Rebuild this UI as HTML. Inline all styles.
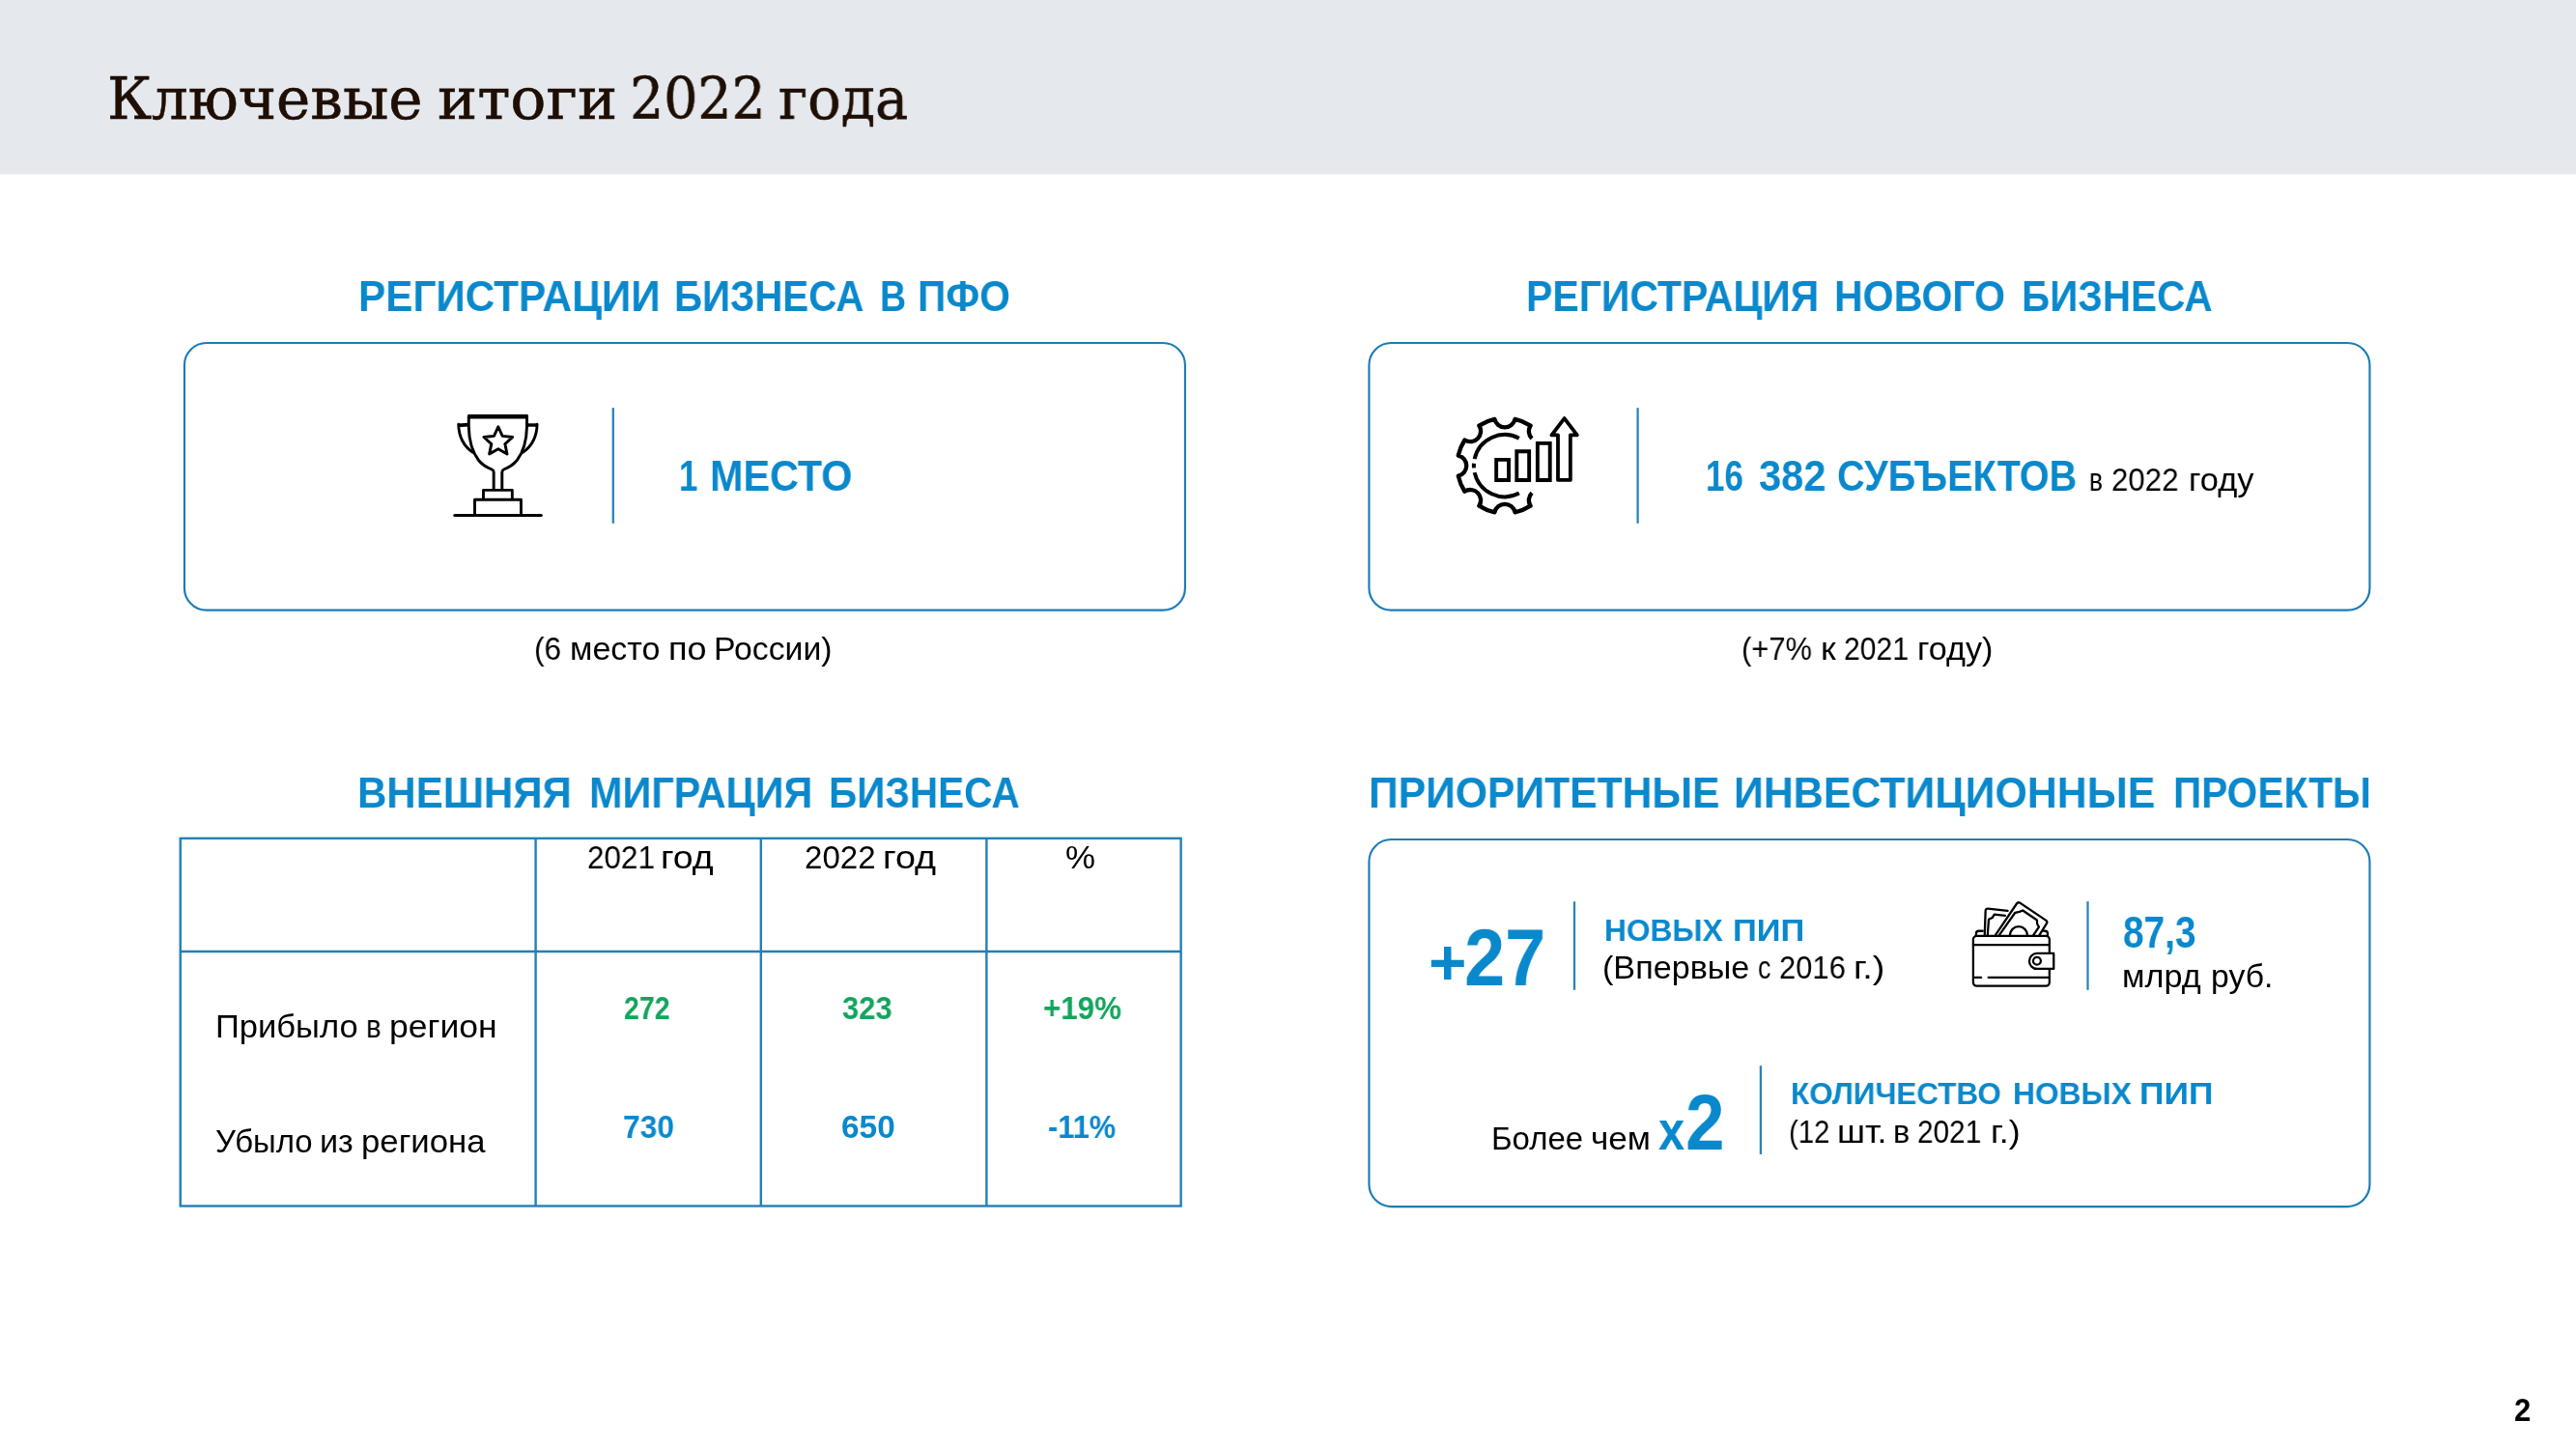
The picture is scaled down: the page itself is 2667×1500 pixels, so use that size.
<!DOCTYPE html>
<html lang="ru">
<head>
<meta charset="utf-8">
<title>Ключевые итоги 2022 года</title>
<style>
html,body{margin:0;padding:0;background:#fff;}
body{width:2667px;height:1500px;position:relative;overflow:hidden;font-family:"Liberation Sans",sans-serif;}
.hdr{position:absolute;left:0;top:0;width:2667px;height:180px;background:#e5e9ed;border-bottom:1px solid #f4f6f8;}
.t{position:absolute;white-space:nowrap;line-height:0;transform-origin:0 0;margin:0;padding:0;will-change:transform;}
.g{position:absolute;left:0;top:0;margin:0;}
.g .t{white-space:pre;}
.f-sans{font-family:"Liberation Sans",sans-serif;}
.f-serif{font-family:"DejaVu Serif","Liberation Serif",serif;}
.tbl{position:absolute;left:0;top:0;}
svg{position:absolute;overflow:visible;}
</style>
</head>
<body>
<div class="hdr"></div>

<!-- cards, separators and table grid -->
<svg class="tbl" width="2667" height="1500" viewBox="0 0 2667 1500">
 <g fill="none" stroke="#1d7cb3" stroke-width="2.15">
  <rect x="190.93" y="354.95" width="1036.03" height="276.7" rx="23" ry="23"/>
  <rect x="1417.42" y="354.95" width="1036.01" height="276.7" rx="23" ry="23"/>
  <rect x="1417.42" y="868.98" width="1036.01" height="380.08" rx="23" ry="23"/>
 </g>
 <g fill="none" stroke="#2785bc" stroke-width="2.3">
  <line x1="634.8" y1="422.2" x2="634.8" y2="541.8"/>
  <line x1="1695.6" y1="422.2" x2="1695.6" y2="541.8"/>
  <line x1="1630.0" y1="933.2" x2="1630.0" y2="1024.8"/>
  <line x1="2161.5" y1="933.2" x2="2161.5" y2="1024.8"/>
  <line x1="1822.9" y1="1103.2" x2="1822.9" y2="1194.9"/>
 </g>
 <g fill="none" stroke="#2180b6" stroke-width="2.4">
  <rect x="186.74" y="867.85" width="1035.92" height="380.62"/>
  <line x1="186.74" y1="985.02" x2="1222.66" y2="985.02"/>
  <line x1="554.6" y1="867.85" x2="554.6" y2="1248.47"/>
  <line x1="787.8" y1="867.85" x2="787.8" y2="1248.47"/>
  <line x1="1021.4" y1="867.85" x2="1021.4" y2="1248.47"/>
 </g>
</svg>

<svg style="left:455px;top:420px" width="120" height="125" viewBox="0 0 1391 1449" fill="none" stroke="#000" stroke-linejoin="round" stroke-linecap="round">
 <path d="M183,1315 H1220" stroke-width="36"/>
 <path d="M423,1315 V1127 H979 V1315" stroke-width="33" stroke-linecap="butt"/>
 <path d="M527,1127 V1012 H873 V1127" stroke-width="33" stroke-linecap="butt"/>
 <path d="M340,130 H1062" stroke-width="52" stroke-linecap="butt"/>
 <path d="M351,120 V250 C354,410 396,560 470,655 C525,722 585,748 628,765 Q651,775 651,800 V1010" stroke-width="34" stroke-linecap="butt"/>
 <path d="M1049,120 V250 C1046,410 1004,560 930,655 C875,722 815,748 772,765 Q751,775 751,800 V1010" stroke-width="34" stroke-linecap="butt"/>
 <path d="M345,228 L226,236" stroke-width="42" stroke-linecap="butt"/>
 <path d="M228,222 C232,380 300,492 400,560" stroke-width="33"/>
 <path d="M1055,232 H1174" stroke-width="40" stroke-linecap="butt"/>
 <path d="M1172,222 C1168,380 1100,492 1000,560" stroke-width="33"/>
 <path d="M705.0,252.0 L755.5,363.4 L877.1,377.1 L786.8,459.6 L811.4,579.4 L705.0,519.0 L598.6,579.4 L623.2,459.6 L532.9,377.1 L654.5,363.4 Z" stroke-width="34" stroke-linejoin="round"/>
</svg>
<svg style="left:1495px;top:420px" width="150" height="125" viewBox="0 0 1739 1449" fill="none" stroke="#000" stroke-linejoin="round" stroke-linecap="butt">
 <path d="M1055.3,394.7 A125,125 0 0 1 1038.7,238.5 A572,572 0 0 0 852.2,161.2 A125,125 0 0 1 730.0,260.0 A125,125 0 0 1 607.8,161.2 A572,572 0 0 0 421.3,238.5 A125,125 0 0 1 404.7,394.7 A125,125 0 0 1 248.5,411.3 A572,572 0 0 0 171.2,597.8 A125,125 0 0 1 270.0,720.0 A125,125 0 0 1 171.2,842.2 A572,572 0 0 0 248.5,1028.7 A125,125 0 0 1 404.7,1045.3 A125,125 0 0 1 421.3,1201.5 A572,572 0 0 0 607.8,1278.8 A125,125 0 0 1 730.0,1180.0 A125,125 0 0 1 852.2,1278.8 A572,572 0 0 0 1038.7,1201.5 A125,125 0 0 1 1055.3,1045.3" stroke-width="50"/>
 <path d="M901.8,390.0 A372,372 0 0 0 366.8,639.5 M359.0,692.8 A372,372 0 0 0 359.0,747.2 M366.8,800.5 A372,372 0 0 0 901.8,1050.0" stroke-width="46"/>
 <path d="M628,648 H777 V892 H628 Z M873,548 H1022 V892 H873 Z M1123,451 H1272 V892 H1123 Z" stroke-width="45" stroke-linejoin="miter"/>
 <path d="M1368,892 V353 H1292 L1445,152 L1598,353 H1517 V892 Z" stroke-width="44"/>
</svg>
<svg style="left:2030px;top:922px" width="110" height="110" viewBox="0 0 1449 1449" fill="none" stroke="#000" stroke-width="30" stroke-linejoin="round" stroke-linecap="round">
 <rect x="170" y="618" width="1040" height="682" rx="48" ry="48"/>
 <path d="M170,740 H1210"/>
 <path d="M190,1185 H278 M378,1185 H1205"/>
 <path d="M1268,856 H1040 A105,105 0 0 0 1040,1066 H1268 Z" fill="#fff"/>
 <circle cx="1040" cy="958" r="52"/>
 <path d="M210,612 V585 Q210,550 245,550 H300"/>
 <path d="M1185,612 V585 Q1185,550 1150,550 H1132"/>
 <path d="M326,610 L338,275 Q340,243 372,246 L640,275"/>
 <path d="M366,610 L382,392 L430,370 L458,325 L605,340"/>
 <path d="M470,610 L763,178 Q782,150 812,170 L1160,403 Q1188,422 1170,450 L1070,610" />
 <path d="M522,610 L742,300 L800,288 L846,270 L1040,402 L1042,452 L1066,496 L988,610"/>
 <path d="M670,610 A120,120 0 0 1 910,610"/>
</svg>


<div class="g"><span class="t f-serif" style="left:111.02px;top:103px;font-size:59.18px;font-weight:400;color:#1e0e04;transform:scaleX(1.0063);-webkit-text-stroke:0.6px #1e0e04;">Ключевые </span><span class="t f-serif" style="left:453.15px;top:103px;font-size:59.18px;font-weight:400;color:#1e0e04;transform:scaleX(1.0441);-webkit-text-stroke:0.6px #1e0e04;">итоги </span><span class="t f-serif" style="left:651.81px;top:103px;font-size:59.18px;font-weight:400;color:#1e0e04;transform:scaleX(0.9335);-webkit-text-stroke:0.6px #1e0e04;">2022 </span><span class="t f-serif" style="left:806.06px;top:103px;font-size:59.18px;font-weight:400;color:#1e0e04;transform:scaleX(0.9709);-webkit-text-stroke:0.6px #1e0e04;">года</span></div>
<div class="g"><span class="t f-sans" style="left:371.35px;top:307px;font-size:43.45px;font-weight:700;color:#0a88cc;transform:scaleX(0.9733);">РЕГИСТРАЦИИ </span><span class="t f-sans" style="left:698.38px;top:307px;font-size:43.45px;font-weight:700;color:#0a88cc;transform:scaleX(0.9281);">БИЗНЕСА </span><span class="t f-sans" style="left:911.06px;top:307px;font-size:43.45px;font-weight:700;color:#0a88cc;transform:scaleX(0.8644);">В </span><span class="t f-sans" style="left:949.74px;top:307px;font-size:43.45px;font-weight:700;color:#0a88cc;transform:scaleX(0.9401);">ПФО</span></div>
<div class="g"><span class="t f-sans" style="left:1580.13px;top:307px;font-size:43.45px;font-weight:700;color:#0a88cc;transform:scaleX(0.9439);">РЕГИСТРАЦИЯ </span><span class="t f-sans" style="left:1898.83px;top:307px;font-size:43.45px;font-weight:700;color:#0a88cc;transform:scaleX(0.9465);">НОВОГО </span><span class="t f-sans" style="left:2092.96px;top:307px;font-size:43.45px;font-weight:700;color:#0a88cc;transform:scaleX(0.9339);">БИЗНЕСА</span></div>
<div class="g"><span class="t f-sans" style="left:369.67px;top:821px;font-size:43.45px;font-weight:700;color:#0a88cc;transform:scaleX(0.9675);">ВНЕШНЯЯ </span><span class="t f-sans" style="left:609.51px;top:821px;font-size:43.45px;font-weight:700;color:#0a88cc;transform:scaleX(0.9527);">МИГРАЦИЯ </span><span class="t f-sans" style="left:857.66px;top:821px;font-size:43.45px;font-weight:700;color:#0a88cc;transform:scaleX(0.9344);">БИЗНЕСА</span></div>
<div class="g"><span class="t f-sans" style="left:1416.63px;top:821px;font-size:43.45px;font-weight:700;color:#0a88cc;transform:scaleX(0.9817);">ПРИОРИТЕТНЫЕ </span><span class="t f-sans" style="left:1795.21px;top:821px;font-size:43.45px;font-weight:700;color:#0a88cc;transform:scaleX(0.9873);">ИНВЕСТИЦИОННЫЕ </span><span class="t f-sans" style="left:2250.06px;top:821px;font-size:43.45px;font-weight:700;color:#0a88cc;transform:scaleX(0.9349);">ПРОЕКТЫ</span></div>
<div class="g"><span class="t f-sans" style="left:702.93px;top:493px;font-size:43.74px;font-weight:700;color:#0a88cc;transform:scaleX(0.8000);">1 </span><span class="t f-sans" style="left:735.41px;top:493px;font-size:43.74px;font-weight:700;color:#0a88cc;transform:scaleX(0.9460);">МЕСТО</span></div>
<div class="g"><span class="t f-sans" style="left:1766.07px;top:493px;font-size:43.74px;font-weight:700;color:#0a88cc;transform:scaleX(0.8000);">16 </span><span class="t f-sans" style="left:1820.57px;top:493px;font-size:43.74px;font-weight:700;color:#0a88cc;transform:scaleX(0.9515);">382 </span><span class="t f-sans" style="left:1902.32px;top:493px;font-size:43.74px;font-weight:700;color:#0a88cc;transform:scaleX(0.9056);">СУБЪЕКТОВ</span></div>
<div class="g"><span class="t f-sans" style="left:2163.20px;top:497px;font-size:32.90px;font-weight:400;color:#000000;transform:scaleX(0.8000);">в </span><span class="t f-sans" style="left:2185.84px;top:497px;font-size:32.90px;font-weight:400;color:#000000;transform:scaleX(0.9497);">2022 </span><span class="t f-sans" style="left:2265.76px;top:497px;font-size:32.90px;font-weight:400;color:#000000;transform:scaleX(1.0472);">году</span></div>
<div class="g"><span class="t f-sans" style="left:552.91px;top:672px;font-size:32.90px;font-weight:400;color:#000000;transform:scaleX(0.9566);">(6 </span><span class="t f-sans" style="left:590.19px;top:672px;font-size:32.90px;font-weight:400;color:#000000;transform:scaleX(1.0338);">место </span><span class="t f-sans" style="left:692.06px;top:672px;font-size:32.90px;font-weight:400;color:#000000;transform:scaleX(1.0945);">по </span><span class="t f-sans" style="left:738.60px;top:672px;font-size:32.90px;font-weight:400;color:#000000;transform:scaleX(1.0265);">России)</span></div>
<div class="g"><span class="t f-sans" style="left:1803.15px;top:672px;font-size:32.90px;font-weight:400;color:#000000;transform:scaleX(0.9381);">(+7% </span><span class="t f-sans" style="left:1885.36px;top:672px;font-size:32.90px;font-weight:400;color:#000000;transform:scaleX(1.0959);">к </span><span class="t f-sans" style="left:1908.99px;top:672px;font-size:32.90px;font-weight:400;color:#000000;transform:scaleX(0.9154);">2021 </span><span class="t f-sans" style="left:1984.97px;top:672px;font-size:32.90px;font-weight:400;color:#000000;transform:scaleX(1.0405);">году)</span></div>
<div class="g"><span class="t f-sans" style="left:608.23px;top:888px;font-size:32.90px;font-weight:400;color:#000000;transform:scaleX(0.9554);">2021 </span><span class="t f-sans" style="left:684.36px;top:888px;font-size:32.90px;font-weight:400;color:#000000;transform:scaleX(1.1394);">год</span></div>
<div class="g"><span class="t f-sans" style="left:833.15px;top:888px;font-size:32.90px;font-weight:400;color:#000000;transform:scaleX(1.0054);">2022 </span><span class="t f-sans" style="left:914.04px;top:888px;font-size:32.90px;font-weight:400;color:#000000;transform:scaleX(1.1482);">год</span></div>
<div class="t f-sans" style="left:1103.28px;top:888px;font-size:32.90px;font-weight:400;color:#000000;transform:scaleX(1.0602);">%</div>
<div class="g"><span class="t f-sans" style="left:222.84px;top:1063px;font-size:32.90px;font-weight:400;color:#000000;transform:scaleX(1.0499);">Прибыло </span><span class="t f-sans" style="left:379.09px;top:1063px;font-size:32.90px;font-weight:400;color:#000000;transform:scaleX(0.8940);">в </span><span class="t f-sans" style="left:402.57px;top:1063px;font-size:32.90px;font-weight:400;color:#000000;transform:scaleX(1.0801);">регион</span></div>
<div class="g"><span class="t f-sans" style="left:222.98px;top:1182px;font-size:32.90px;font-weight:400;color:#000000;transform:scaleX(1.0015);">Убыло </span><span class="t f-sans" style="left:331.28px;top:1182px;font-size:32.90px;font-weight:400;color:#000000;transform:scaleX(1.0390);">из </span><span class="t f-sans" style="left:374.32px;top:1182px;font-size:32.90px;font-weight:400;color:#000000;transform:scaleX(1.0560);">региона</span></div>
<div class="t f-sans" style="left:645.85px;top:1044px;font-size:32.29px;font-weight:700;color:#12a55c;transform:scaleX(0.8815);">272</div>
<div class="t f-sans" style="left:871.68px;top:1044px;font-size:32.29px;font-weight:700;color:#12a55c;transform:scaleX(0.9567);">323</div>
<div class="t f-sans" style="left:1079.65px;top:1044px;font-size:32.29px;font-weight:700;color:#12a55c;transform:scaleX(0.9705);">+19%</div>
<div class="t f-sans" style="left:645.43px;top:1167px;font-size:32.29px;font-weight:700;color:#0a88cc;transform:scaleX(0.9823);">730</div>
<div class="t f-sans" style="left:871.13px;top:1167px;font-size:32.29px;font-weight:700;color:#0a88cc;transform:scaleX(1.0355);">650</div>
<div class="t f-sans" style="left:1085.32px;top:1167px;font-size:32.29px;font-weight:700;color:#0a88cc;transform:scaleX(0.9543);">-11%</div>
<div class="g"><span class="t f-sans" style="left:1479.30px;top:996px;font-size:66.47px;font-weight:700;color:#0a88cc;transform:scaleX(1.0159);">+</span><span class="t f-sans" style="left:1515.53px;top:991px;font-size:83.71px;font-weight:700;color:#0a88cc;transform:scaleX(0.9052);">27</span></div>
<div class="g"><span class="t f-sans" style="left:1661.04px;top:963px;font-size:32.23px;font-weight:700;color:#0a88cc;transform:scaleX(0.9841);">НОВЫХ </span><span class="t f-sans" style="left:1793.86px;top:963px;font-size:32.23px;font-weight:700;color:#0a88cc;transform:scaleX(1.0697);">ПИП</span></div>
<div class="g"><span class="t f-sans" style="left:1659.15px;top:1002px;font-size:32.90px;font-weight:400;color:#000000;transform:scaleX(1.0384);">(Впервые </span><span class="t f-sans" style="left:1819.82px;top:1002px;font-size:32.90px;font-weight:400;color:#000000;transform:scaleX(0.8176);">с </span><span class="t f-sans" style="left:1842.05px;top:1002px;font-size:32.90px;font-weight:400;color:#000000;transform:scaleX(0.9403);">2016 </span><span class="t f-sans" style="left:1918.84px;top:1002px;font-size:32.90px;font-weight:400;color:#000000;transform:scaleX(1.1526);">г.)</span></div>
<div class="t f-sans" style="left:2198.24px;top:965px;font-size:46.71px;font-weight:700;color:#0a88cc;transform:scaleX(0.8300);">87,3</div>
<div class="g"><span class="t f-sans" style="left:2197.28px;top:1011px;font-size:32.90px;font-weight:400;color:#000000;transform:scaleX(1.0399);">млрд </span><span class="t f-sans" style="left:2288.87px;top:1011px;font-size:32.90px;font-weight:400;color:#000000;transform:scaleX(1.0265);">руб.</span></div>
<div class="g"><span class="t f-sans" style="left:1543.96px;top:1179px;font-size:32.90px;font-weight:400;color:#000000;transform:scaleX(1.0015);">Более </span><span class="t f-sans" style="left:1646.57px;top:1179px;font-size:32.90px;font-weight:400;color:#000000;transform:scaleX(1.0680);">чем</span></div>
<div class="g"><span class="t f-sans" style="left:1716.66px;top:1170px;font-size:58.13px;font-weight:700;color:#0a88cc;transform:scaleX(0.8396);">x</span><span class="t f-sans" style="left:1744.72px;top:1162px;font-size:80.71px;font-weight:700;color:#0a88cc;transform:scaleX(0.9001);">2</span></div>
<div class="g"><span class="t f-sans" style="left:1854.06px;top:1132px;font-size:32.23px;font-weight:700;color:#0a88cc;transform:scaleX(0.9743);">КОЛИЧЕСТВО </span><span class="t f-sans" style="left:2084.34px;top:1132px;font-size:32.23px;font-weight:700;color:#0a88cc;transform:scaleX(0.9857);">НОВЫХ </span><span class="t f-sans" style="left:2215.39px;top:1132px;font-size:32.23px;font-weight:700;color:#0a88cc;transform:scaleX(1.1003);">ПИП</span></div>
<div class="g"><span class="t f-sans" style="left:1852.14px;top:1172px;font-size:32.90px;font-weight:400;color:#000000;transform:scaleX(0.8920);">(12 </span><span class="t f-sans" style="left:1902.25px;top:1172px;font-size:32.90px;font-weight:400;color:#000000;transform:scaleX(1.0995);">шт. </span><span class="t f-sans" style="left:1960.19px;top:1172px;font-size:32.90px;font-weight:400;color:#000000;transform:scaleX(0.9870);">в </span><span class="t f-sans" style="left:1984.91px;top:1172px;font-size:32.90px;font-weight:400;color:#000000;transform:scaleX(0.9054);">2021 </span><span class="t f-sans" style="left:2060.57px;top:1172px;font-size:32.90px;font-weight:400;color:#000000;transform:scaleX(1.0902);">г.)</span></div>
<div class="t f-sans" style="left:2603.47px;top:1460px;font-size:33.29px;font-weight:700;color:#000000;transform:scaleX(0.9319);">2</div>
</body>
</html>
